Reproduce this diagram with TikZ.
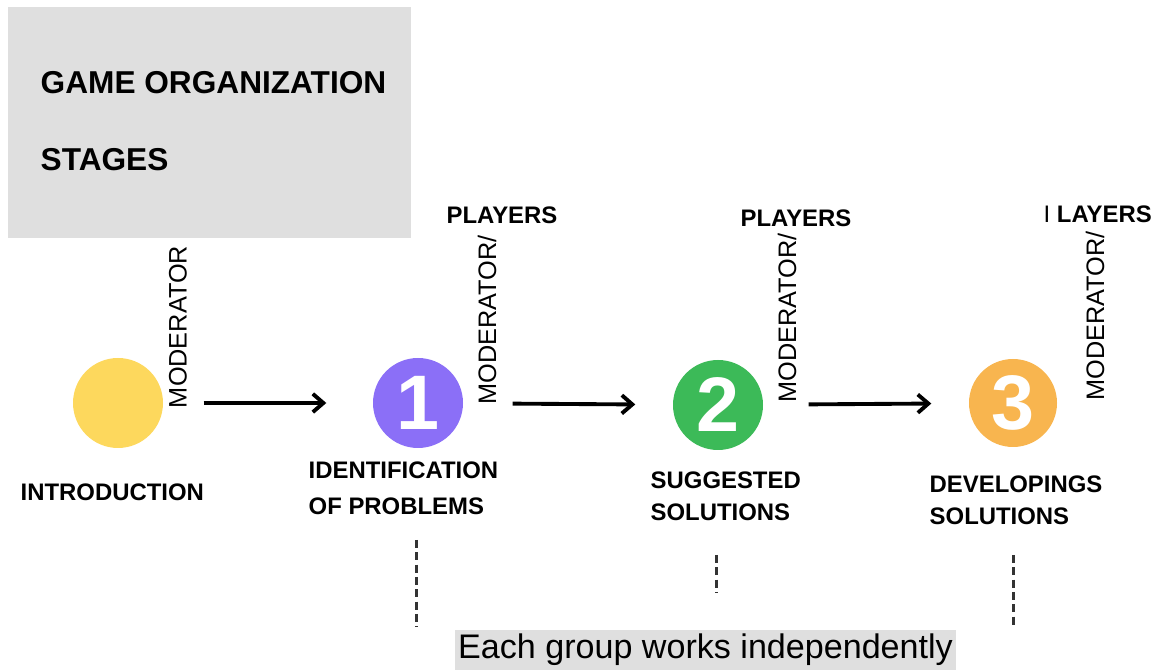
\documentclass[tikz,border=0pt]{standalone}
\usepackage{fontspec}
\setmainfont{Liberation Sans}
\usepackage{xcolor}
\usetikzlibrary{arrows.meta,positioning}
\definecolor{panelgray}{HTML}{DFDFDF}
\definecolor{introyellow}{HTML}{FDD85D}
\definecolor{stageviolet}{HTML}{8B6FF7}
\definecolor{stagegreen}{HTML}{3CBA58}
\definecolor{stageorange}{HTML}{F8B54F}
\tikzset{
  stage/.style={circle,minimum size=0.9cm,inner sep=0pt,text=white,
                font=\fontsize{22}{22}\selectfont\bfseries},
  role/.style={rotate=90,inner sep=0pt,font=\fontsize{7.2}{8}\selectfont},
  who/.style={inner sep=0pt,font=\fontsize{6.8}{8}\selectfont\bfseries},
  lbl/.style={align=left,anchor=west,inner sep=0pt,
              font=\fontsize{6.8}{9.2}\selectfont\bfseries},
  ttl/.style={anchor=west,inner sep=0pt,font=\fontsize{9}{10}\selectfont\bfseries},
  arr/.style={-{Straight Barb[length=3pt,width=5.2pt]},line width=1.1pt},
  grp/.style={gray!40!black,line width=0.85pt,dash pattern=on 2.3pt off 1.2pt},
}

\begin{document}
\begin{tikzpicture}
\useasboundingbox (0,0) rectangle (11.55,6.70);
% heading panel
\fill[panelgray] (0.08,4.32) rectangle (4.11,6.63);
\node[ttl] (title1) at (0.40,5.87) {GAME ORGANIZATION};
\node[ttl] (title2) at (0.40,5.10) {STAGES};
% stage circles
\node[stage,fill=introyellow] (c0) at (1.18,2.67) {};
\node[stage,fill=stageviolet] (c1) at (4.18,2.67) {1};
\node[stage,fill=stagegreen]  (c2) at (7.18,2.65) {2};
\node[stage,fill=stageorange, minimum size=0.88cm] (c3) at (10.13,2.67) {3};
% who leads each stage
\node[role] (mod0) at (1.78,3.43) {MODERATOR};
\node[role] (mod1) at (4.87,3.50) {MODERATOR/};
\node[role] (mod2) at (7.87,3.52) {MODERATOR/};
\node[role] (mod3) at (10.95,3.54) {MODERATOR/};
\node[who] (pl1) at (5.02,4.55) {PLAYERS};
\node[who] (pl2) at (7.96,4.52) {PLAYERS};
\node[who,anchor=west] (pl3) at (10.43,4.56) {{\mdseries I} LAYERS};
% arrows between stages
\draw[arr,shorten <=0.40cm,shorten >=0.46cm] (c0) -- (c1);
\draw[arr,shorten <=0.49cm,shorten >=0.37cm] (c1) -- (c2);
\draw[arr,shorten <=0.45cm,shorten >=0.37cm] (c2) -- (c3);
% stage names
\node[lbl] (intro) at (0.20,1.78) {INTRODUCTION};
\node[lbl] (ident) at (3.08,1.82) {IDENTIFICATION\\[1pt]OF PROBLEMS};
\node[lbl] (sugg)  at (6.50,1.74) {SUGGESTED\\SOLUTIONS};
\node[lbl] (devel) at (9.29,1.70) {DEVELOPINGS\\SOLUTIONS};
% group work
\coordinate (g1a) at (4.16,1.30); \coordinate (g1b) at (4.16,0.43);
\coordinate (g2a) at (7.16,1.15); \coordinate (g2b) at (7.16,0.77);
\coordinate (g3a) at (10.13,1.15); \coordinate (g3b) at (10.13,0.43);
\draw[grp] (g1a) -- (g1b);
\draw[grp] (g2a) -- (g2b);
\draw[grp] (g3a) -- (g3b);
\node[fill=panelgray,inner xsep=1pt,inner ysep=0pt,minimum height=0.40cm,
      font=\fontsize{9.7}{10}\selectfont] (group) at (7.055,0.20)
      {Each group works independently};
\end{tikzpicture}
\end{document}
